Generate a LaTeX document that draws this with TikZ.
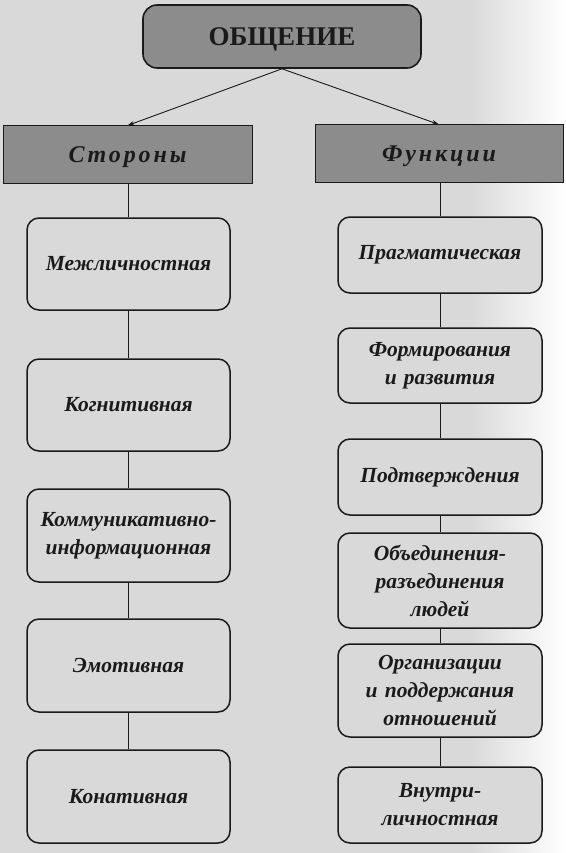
\documentclass[tikz,border=0pt]{standalone}
\usepackage{fontspec}
\setmainfont{Liberation Serif}
\usetikzlibrary{arrows.meta}
\definecolor{bg}{HTML}{D9D9D9}
\definecolor{hdr}{HTML}{8C8C8C}
\definecolor{ink}{HTML}{1A1A1A}
\tikzset{
  x=1pt,y=-1pt,
  topbox/.style={draw=ink,line width=1.6pt,fill=hdr,rounded corners=14pt,inner sep=0pt,
    minimum width=278pt,minimum height=63pt,text depth=0pt,
    font=\bfseries\fontsize{27}{30}\selectfont,text=ink},
  headbox/.style={draw=ink,line width=1pt,fill=hdr,inner sep=0pt,
    minimum width=249pt,minimum height=57pt,text depth=0pt,
    font=\bfseries\itshape\fontsize{24}{26}\selectfont\addfontfeatures{LetterSpace=12},text=ink},
  itembox/.style={draw=ink,line width=1.5pt,fill=bg,rounded corners=12pt,inner sep=0pt,
    minimum width=203pt,text width=200pt,align=center,
    font=\bfseries\itshape\fontsize{21.5}{28}\selectfont,text=ink},
  link/.style={draw=ink,line width=0.9pt},
  arr/.style={draw=ink,line width=0.9pt,-{Stealth[length=7pt,width=4.5pt]}}
}
\begin{document}
\begin{tikzpicture}
\useasboundingbox (0,0) rectangle (565,853);
\fill[bg] (0,0) rectangle (565,853);
\shade[left color=bg,right color=white,draw=none] (470,0) rectangle (565,853);
% top
\node[topbox] (top) at (282,36.5) {ОБЩЕНИЕ};
\node[headbox] (st) at (127.5,154.5) {Стороны};
\node[headbox,minimum width=248pt] (fn) at (439,153.5) {Функции};
% left column
\node[itembox,minimum height=92pt] (l1) at (128.5,264) {Межличностная};
\node[itembox,minimum height=92pt] (l2) at (128.5,405) {Когнитивная};
\node[itembox,minimum height=93pt] (l3) at (128.5,535.5) {Коммуникативно-\\информационная};
\node[itembox,minimum height=93pt] (l4) at (128.5,665.5) {Эмотивная};
\node[itembox,minimum height=93pt] (l5) at (128.5,796.5) {Конативная};
% right column
\node[itembox,minimum width=204pt,minimum height=76pt] (r1) at (440,255) {Прагматическая};
\node[itembox,minimum width=204pt,minimum height=75pt] (r2) at (440,365.5) {Формирования\\и развития};
\node[itembox,minimum width=204pt,minimum height=76pt] (r3) at (440,477) {Подтверждения};
\node[itembox,minimum width=204pt,minimum height=95pt] (r4) at (440,580.5) {Объединения-\\разъединения\\людей};
\node[itembox,minimum width=204pt,minimum height=93pt] (r5) at (440,690.5) {Организации\\и поддержания\\отношений};
\node[itembox,minimum width=204pt,minimum height=76pt] (r6) at (440,805) {Внутри-\\личностная};
% arrows
\draw[arr] (top.south) -- (st.north);
\draw[arr] (top.south) -- (fn.north);
% connectors
\draw[link] (l1.north) -- (l1.north |- st.south);
\draw[link] (l1) -- (l2);
\draw[link] (l2) -- (l3);
\draw[link] (l3) -- (l4);
\draw[link] (l4) -- (l5);
\draw[link] (r1.north) -- (r1.north |- fn.south);
\draw[link] (r1) -- (r2);
\draw[link] (r2) -- (r3);
\draw[link] (r3) -- (r4);
\draw[link] (r4) -- (r5);
\draw[link] (r5) -- (r6);
\end{tikzpicture}
\end{document}
